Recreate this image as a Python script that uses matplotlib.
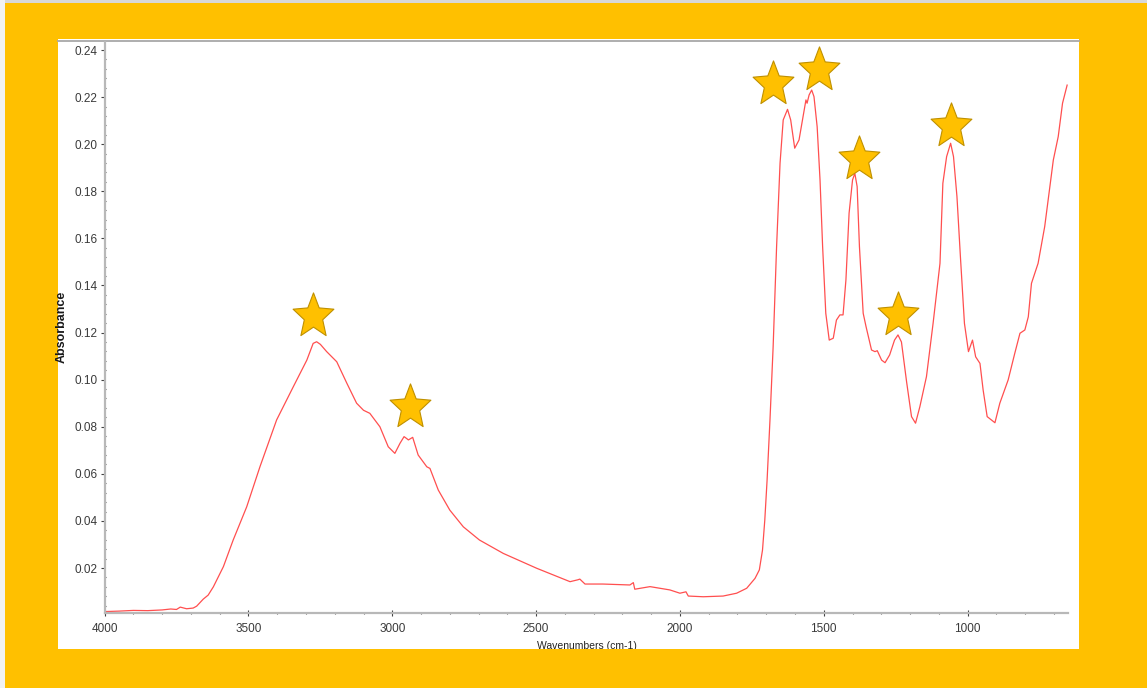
import matplotlib
matplotlib.use("Agg")
import matplotlib.pyplot as plt
from matplotlib.patches import Rectangle
from matplotlib.lines import Line2D
from matplotlib.path import Path
import numpy as np

# ---- data ----
wavenumber = [4000, 3950, 3900, 3850, 3800, 3770, 3750, 3737, 3715, 3692, 3680, 3657, 3640,
              3622, 3587, 3553, 3506, 3460, 3402, 3344, 3297, 3275, 3263, 3250, 3228, 3193,
              3158, 3124, 3100, 3078, 3043, 3014, 2991, 2973, 2959, 2950, 2944, 2929, 2910,
              2880, 2869, 2840, 2800, 2753, 2697, 2614, 2498, 2382, 2355, 2348, 2330, 2268,
              2174, 2162, 2157, 2104, 2035, 2000, 1979, 1971, 1919, 1850, 1803, 1768, 1739,
              1724, 1713, 1705, 1697, 1687, 1676, 1664, 1652, 1641, 1626, 1615, 1601, 1586,
              1572, 1562, 1558, 1551, 1542, 1534, 1523, 1513, 1504, 1493, 1481, 1467, 1456,
              1444, 1433, 1423, 1412, 1400, 1392, 1384, 1376, 1363, 1353, 1334, 1322, 1314,
              1299, 1287, 1271, 1254, 1242, 1230, 1212, 1195, 1181, 1166, 1143, 1120, 1096,
              1086, 1073, 1059, 1049, 1037, 1025, 1011, 997, 983, 972, 957, 946, 932, 905,
              888, 859, 836, 818, 801, 789, 778, 755, 732, 714, 702, 685, 670, 654]
absorbance = [0.0015, 0.0017, 0.0020, 0.0019, 0.0022, 0.0026, 0.0024, 0.0034, 0.0027, 0.0030,
              0.0038, 0.0068, 0.0085, 0.0120, 0.0206, 0.0319, 0.0460, 0.0630, 0.0829, 0.0970,
              0.1083, 0.1154, 0.1161, 0.1150, 0.1119, 0.1076, 0.0985, 0.0900, 0.0870, 0.0857,
              0.0800, 0.0715, 0.0687, 0.0730, 0.0758, 0.0750, 0.0744, 0.0755, 0.0680, 0.0630,
              0.0623, 0.0531, 0.0446, 0.0375, 0.0319, 0.0262, 0.0199, 0.0142, 0.0150, 0.0153,
              0.0132, 0.0132, 0.0128, 0.0138, 0.0110, 0.0121, 0.0107, 0.0093, 0.0099, 0.0081,
              0.0078, 0.0081, 0.0093, 0.0114, 0.0156, 0.0192, 0.0276, 0.0404, 0.0574, 0.0829,
              0.1140, 0.1565, 0.1919, 0.2103, 0.2148, 0.2103, 0.1983, 0.2018, 0.2117, 0.2188,
              0.2174, 0.2209, 0.2230, 0.2202, 0.2074, 0.1848, 0.1565, 0.1282, 0.1168, 0.1176,
              0.1253, 0.1275, 0.1275, 0.1423, 0.1707, 0.1848, 0.1876, 0.1820, 0.1565, 0.1282,
              0.1225, 0.1126, 0.1119, 0.1123, 0.1083, 0.1072, 0.1105, 0.1168, 0.1190, 0.1160,
              0.0990, 0.0843, 0.0815, 0.0885, 0.1013, 0.1239, 0.1494, 0.1834, 0.1947, 0.2004,
              0.1947, 0.1777, 0.1522, 0.1239, 0.1119, 0.1168, 0.1097, 0.1069, 0.0956, 0.0843,
              0.0817, 0.0900, 0.0999, 0.1112, 0.1197, 0.1211, 0.1267, 0.1409, 0.1494, 0.1650,
              0.1820, 0.1933, 0.2032, 0.2174, 0.2251]

star_x = [3275, 2938, 1675, 1517, 1379, 1243, 1056]
star_y = [0.1272, 0.0883, 0.2257, 0.2313, 0.1938, 0.1273, 0.2079]

x_ticks = [4000, 3500, 3000, 2500, 2000, 1500, 1000]
y_ticks = [0.02, 0.04, 0.06, 0.08, 0.10, 0.12, 0.14, 0.16, 0.18, 0.20, 0.22, 0.24]
x_label = "Wavenumbers (cm-1)"
y_label = "Absorbance"

# ---- figure ----
W, H = 1147, 688
fig = plt.figure(figsize=(W / 100, H / 100), dpi=100)
fig.patch.set_facecolor("#FFC000")

def fx(px):
    return px / W

def fy(py):
    return 1 - py / H

# light strips at top and left
fig.patches.append(Rectangle((0, fy(3)), 1, 3 / H, transform=fig.transFigure,
                             facecolor="#D8D8D8", edgecolor="none", zorder=-5))
fig.patches.append(Rectangle((0, 0), 5 / W, 1, transform=fig.transFigure,
                             facecolor="#F2F2F2", edgecolor="none", zorder=-5))
# white panel
fig.patches.append(Rectangle((fx(58), fy(649)), fx(1079) - fx(58), (649 - 39) / H,
                             transform=fig.transFigure, facecolor="white",
                             edgecolor="none", zorder=-4))
fig.lines.append(Line2D([fx(58), fx(1079)], [fy(41), fy(41)], transform=fig.transFigure,
                        color="#A8A8A8", lw=1.3, zorder=-3))

ax = fig.add_axes([fx(104.6), fy(613), fx(1068) - fx(104.6), (613 - 42) / H])
ax.set_facecolor("none")
ax.plot(wavenumber, absorbance, color="#FF3030", lw=0.9, alpha=0.85, zorder=2)

# star marker (slightly tall five-point star)
ang = np.deg2rad(90 + 36 * np.arange(10))
rad = np.where(np.arange(10) % 2 == 0, 1.0, 0.45)
verts = np.column_stack([rad * np.cos(ang), rad * np.sin(ang) * 1.1])
verts = np.vstack([verts, verts[0]])
codes = [Path.MOVETO] + [Path.LINETO] * 9 + [Path.CLOSEPOLY]
star = Path(verts, codes)
ax.plot(star_x, star_y, linestyle="none", marker=star, markersize=34,
        markerfacecolor="#FFC000", markeredgecolor="#BF9000", markeredgewidth=0.8,
        zorder=3, clip_on=False)

ax.set_xlim(4000, 651)
ax.set_ylim(0.0009, 0.2434)
ax.set_xticks(x_ticks)
ax.set_xticklabels([str(t) for t in x_ticks])
ax.set_xticks(np.arange(3900, 650, -100), minor=True)
ax.set_yticks(y_ticks)
ax.set_yticklabels([f"{t:.2f}" for t in y_ticks])
ax.set_yticks(np.arange(0.004, 0.2434, 0.004), minor=True)

for s in ["top", "right"]:
    ax.spines[s].set_visible(False)
for s in ["left", "bottom"]:
    ax.spines[s].set_color("#B8B8B8")
    ax.spines[s].set_linewidth(1.6)

tick_font = ["Liberation Sans Narrow", "Liberation Sans", "DejaVu Sans"]
ax.tick_params(axis="both", which="major", color="#404040", labelcolor="#3A3A3A",
               labelsize=8.5, width=0.8)
ax.tick_params(axis="y", which="major", direction="out", length=3, pad=2)
ax.tick_params(axis="x", which="major", direction="inout", length=4, pad=5)
ax.tick_params(axis="both", which="minor", direction="inout", length=2, width=0.8,
               color="#505050")
for lab in ax.get_xticklabels() + ax.get_yticklabels():
    lab.set_family(tick_font)

fig.text(fx(62), fy(327), y_label, rotation=90, ha="center", va="center",
         fontsize=9, fontweight="bold", color="#1A1A1A",
         family=["Liberation Sans Narrow", "Liberation Sans", "DejaVu Sans"])
fig.text(fx(587), fy(641), x_label, ha="center", va="top",
         fontsize=7.5, color="#222222", family=tick_font)

# orange band clipping the bottom of the x label
fig.patches.append(Rectangle((fx(5), 0), 1, fy(649), transform=fig.transFigure,
                             facecolor="#FFC000", edgecolor="none", zorder=10))

fig.savefig("out.png", dpi=100, facecolor=fig.get_facecolor())
